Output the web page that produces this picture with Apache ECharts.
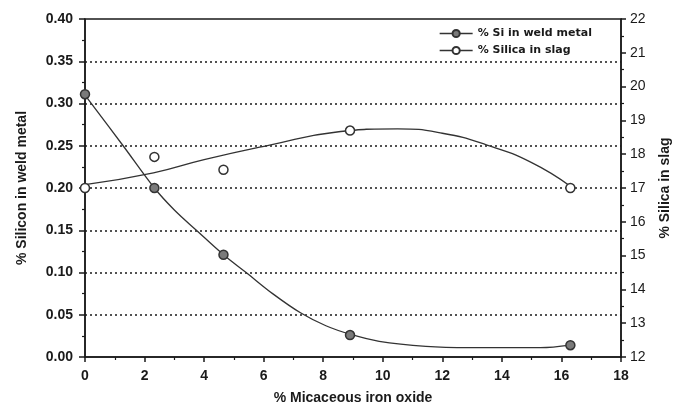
<!DOCTYPE html>
<html>
<head>
<meta charset="utf-8">
<script src="https://cdn.jsdelivr.net/npm/echarts@6/dist/echarts.min.js"></script>
<style>html,body{margin:0;padding:0;background:#fff;}#c{width:675px;height:413px;}</style>
</head>
<body>
<div id="c"></div>
<script>
// Measured points
const xPts = [0, 2.33, 4.65, 8.9, 16.3];
const siPts = [0.311, 0.200, 0.121, 0.026, 0.014];
const silicaPts = [17.0, 17.92, 17.54, 18.7, 17.0];

// Trend curves
const siCurveX = [0, 1.28, 2.33, 3.0, 3.74, 4.65, 5.41, 6.3, 7.25, 8.09, 8.9, 9.88, 11.45, 12.9, 14.3, 15.3, 16.3];
const siCurveY = [0.31, 0.25, 0.20, 0.174, 0.15, 0.121, 0.10, 0.075, 0.052, 0.037, 0.027, 0.0185, 0.0125, 0.011, 0.011, 0.011, 0.014];
const silicaCurveX = [0, 2.3, 4.0, 6.2, 8.4, 10.5, 12, 13.5, 15, 16.3];
const silicaCurveY = [17.1, 17.45, 17.84, 18.27, 18.65, 18.75, 18.62, 18.27, 17.75, 17.05];

const xTicks = [0, 18, 2];
const leftTicks = [0, 0.40, 0.05];
const rightTicks = [12, 22, 1];

const seriesNames = ['% Si in weld metal', '% Silica in slag'];

const zip = (a, b) => a.map((v, i) => [v, b[i]]);
const ink = '#1a1a1a';

const chart = echarts.init(document.getElementById('c'));
chart.setOption({
  animation: false,
  backgroundColor: '#fff',
  textStyle: { fontFamily: 'Liberation Sans, Arial, sans-serif' },
  grid: { left: 85, right: 54, top: 19, bottom: 56, show: true, borderColor: ink, borderWidth: 1.5, backgroundColor: 'transparent', containLabel: false, outerBoundsMode: 'none' },
  legend: {
    orient: 'vertical', left: 434, top: 23, itemGap: 6, itemWidth: 33, itemHeight: 9,
    textStyle: { fontSize: 11, fontWeight: 'bold', color: ink, fontFamily: 'DejaVu Sans' },
    data: [
      { name: seriesNames[0], lineStyle: { color: '#333', width: 1.3, opacity: 1 } },
      { name: seriesNames[1], lineStyle: { color: '#333', width: 1.3, opacity: 1 } }
    ]
  },
  xAxis: {
    type: 'value', min: xTicks[0], max: xTicks[1], interval: xTicks[2],
    name: '% Micaceous iron oxide', nameLocation: 'middle', nameGap: 34,
    nameTextStyle: { fontSize: 14, fontWeight: 'bold', color: ink },
    axisLine: { lineStyle: { color: ink, width: 1.5 } },
    axisTick: { inside: false, length: 5, lineStyle: { color: ink, width: 1.5 } },
    minorTick: { show: true, splitNumber: 2, length: 3, lineStyle: { color: ink, width: 1.2 } },
    axisLabel: { fontSize: 14, fontWeight: 'bold', color: ink, margin: 12 },
    splitLine: { show: false }
  },
  yAxis: [
    {
      type: 'value', min: leftTicks[0], max: leftTicks[1], interval: leftTicks[2], position: 'left',
      name: '% Silicon in weld metal', nameLocation: 'middle', nameGap: 56, nameRotate: 90,
      nameTextStyle: { fontSize: 14, fontWeight: 'bold', color: ink },
      axisLine: { show: true, lineStyle: { color: ink, width: 1.5 } },
      axisTick: { show: true, length: 6, lineStyle: { color: ink, width: 1.5 } },
      minorTick: { show: true, splitNumber: 2, length: 3, lineStyle: { color: ink, width: 1.2 } },
      axisLabel: { fontSize: 14, fontWeight: 'bold', color: ink, margin: 12, formatter: v => v.toFixed(2) },
      splitLine: { show: true, showMinLine: false, showMaxLine: false, lineStyle: { color: ink, width: 1.5, type: [2, 3] } }
    },
    {
      type: 'value', min: rightTicks[0], max: rightTicks[1], interval: rightTicks[2], position: 'right',
      name: '% Silica in slag', nameLocation: 'middle', nameGap: 37, nameRotate: 90,
      nameTextStyle: { fontSize: 14, fontWeight: 'bold', color: ink },
      axisLine: { show: true, lineStyle: { color: ink, width: 1.5 } },
      axisTick: { show: true, length: 5, lineStyle: { color: ink, width: 1.5 } },
      minorTick: { show: true, splitNumber: 2, length: 3, lineStyle: { color: ink, width: 1.2 } },
      axisLabel: { fontSize: 14, color: ink, margin: 9 },
      splitLine: { show: false }
    }
  ],
  series: [
    {
      type: 'line', yAxisIndex: 0, data: zip(siCurveX, siCurveY), smooth: 0.35,
      showSymbol: false, symbol: 'none', lineStyle: { color: '#333', width: 1.3 }, silent: true, z: 3
    },
    {
      type: 'line', yAxisIndex: 1, data: zip(silicaCurveX, silicaCurveY), smooth: 0.5,
      showSymbol: false, symbol: 'none', lineStyle: { color: '#333', width: 1.3 }, silent: true, z: 3
    },
    {
      name: seriesNames[0], type: 'line', yAxisIndex: 0, data: zip(xPts, siPts),
      symbol: 'circle', symbolSize: 9, lineStyle: { opacity: 0, width: 0 },
      itemStyle: { color: '#7a7a7a', borderColor: '#333', borderWidth: 1.5 }, z: 5
    },
    {
      name: seriesNames[1], type: 'line', yAxisIndex: 1, data: zip(xPts, silicaPts),
      symbol: 'circle', symbolSize: 9, lineStyle: { opacity: 0, width: 0 },
      itemStyle: { color: '#fff', borderColor: '#333', borderWidth: 1.5 }, z: 5
    }
  ]
});
</script>
</body>
</html>
